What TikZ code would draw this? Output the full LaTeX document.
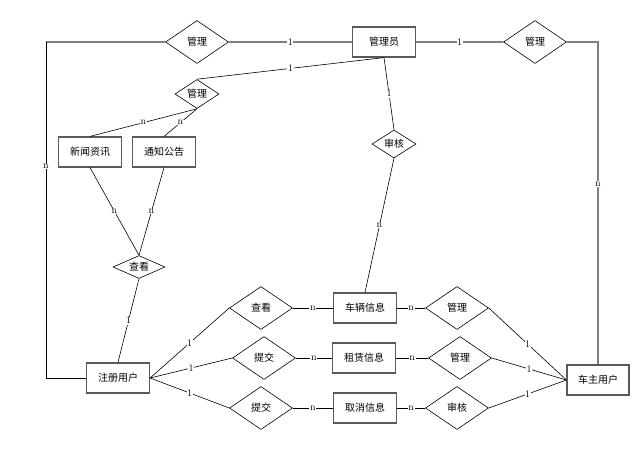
\documentclass[tikz,border=0pt]{standalone}
\usepackage{fontspec}
\newfontfamily\cjk{Noto Sans CJK SC}
\usetikzlibrary{shapes.geometric}

\begin{document}
\begin{tikzpicture}[x=1pt, y=-1pt, line width=0.6pt,
       ent/.style = {rectangle, draw=black!65, line width=1.2pt, fill=white,
                     minimum width=63pt, minimum height=30pt, inner sep=0pt,
                     font=\cjk\fontsize{10}{12}\selectfont, node contents={#1}},
       rel/.style = {diamond, draw, line width=0.6pt, fill=white, aspect=1.46,
                     minimum width=63pt, minimum height=43pt, inner sep=0pt,
                     font=\cjk\fontsize{10}{12}\selectfont, node contents={#1}},
      srel/.style = {rel=#1, minimum width=44pt, minimum height=29pt},
       num/.style = {fill=white, inner sep=0.6pt, font=\fontsize{10}{10}\selectfont},
     gline/.style = {draw=gray, line width=1.5pt},
every edge/.style = {draw, line width=0.6pt}
                        ]
\useasboundingbox (0,0) rectangle (643,459);
\node (gly) at (384,42) [ent=管理员];
\node (gl1) at (197,42) [rel=管理];
\node (gl2) at (535,42) [rel=管理];
\node (gl3) at (197,94) [srel=管理];
\node (xwzx) at (90,152) [ent=新闻资讯];
\node (tzgg) at (164,152) [ent=通知公告];
\node (ck1) at (139,267) [srel=查看, minimum width=52pt, minimum height=22pt];
\node (sh1) at (394,144) [srel=审核, minimum height=28pt];
\node (zcyh) at (118,378) [ent=注册用户];
\node (czyh) at (598,380) [ent=车主用户, minimum width=62pt];
\node (ck2) at (261,308) [rel=查看];
\node (tj1) at (264,358) [rel=提交];
\node (tj2) at (261,408) [rel=提交];
\node (clxx) at (365,308) [ent=车辆信息];
\node (zlxx) at (364,358) [ent=租赁信息];
\node (qxxx) at (365,408) [ent=取消信息];
\node (gl4) at (457,308) [rel=管理];
\node (gl5) at (460,358) [rel=管理];
\node (sh2) at (457,408) [rel=审核];
\coordinate (lc) at (46,42);

%

\draw[gline] (gl1.west) -- (lc);
\draw (lc) |- node[num, pos=0.185]{n} (zcyh.west);
\draw[gline] (gl2.east) -| node[num, pos=0.72]{n} (czyh.north);
\path   (gl1.east) edge[gline] node[num]{1} (gly.west)
        (gly.east) edge[gline] node[num]{1} (gl2.west)
        (gly.south) edge node[num]{1} (gl3.north)
        (gl3.south) edge node[num]{n} (xwzx.north)
        (gl3.south) edge node[num]{n} (tzgg.north)
        (xwzx.south) edge node[num]{n} (ck1.north)
        (tzgg.south) edge node[num]{n} (ck1.north)
        (ck1.south) edge node[num]{1} (zcyh.north)
        (gly.south) edge node[num]{1} (sh1.north)
        (sh1.south) edge node[num]{n} (clxx.north)
        (zcyh.east) edge node[num]{1} (ck2.west)
        (zcyh.east) edge node[num]{1} (tj1.west)
        (zcyh.east) edge node[num]{1} (tj2.west)
        (ck2.east) edge node[num]{n} (clxx.west)
        (tj1.east) edge node[num]{n} (zlxx.west)
        (tj2.east) edge node[num]{n} (qxxx.west)
        (clxx.east) edge node[num]{n} (gl4.west)
        (zlxx.east) edge node[num]{n} (gl5.west)
        (qxxx.east) edge node[num]{n} (sh2.west)
        (gl4.east) edge node[num]{1} (czyh.west)
        (gl5.east) edge node[num]{1} (czyh.west)
        (sh2.east) edge node[num]{1} (czyh.west);
\end{tikzpicture}
\end{document}
